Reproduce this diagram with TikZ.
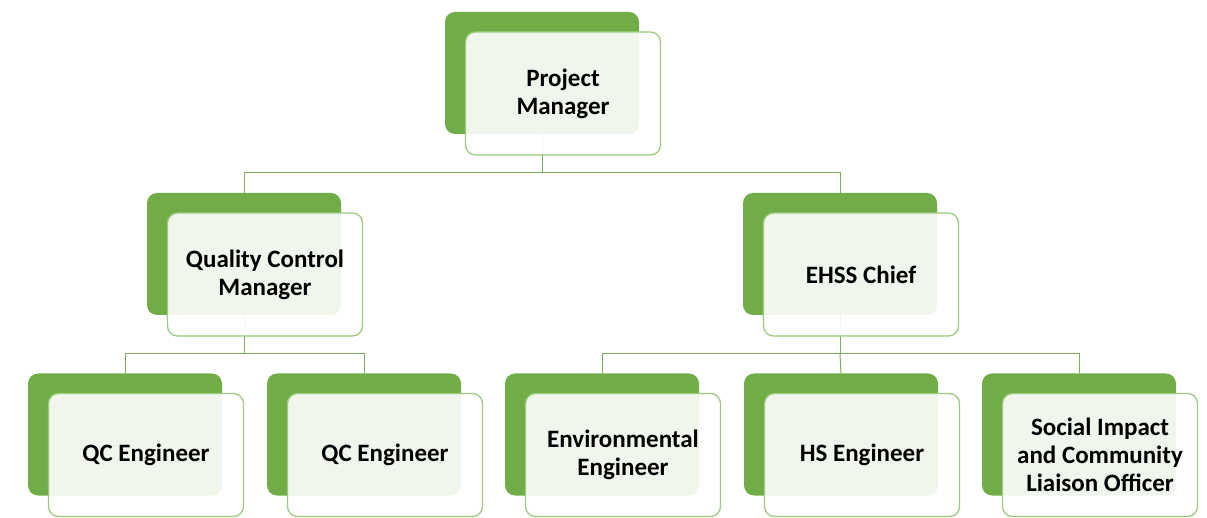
\documentclass[tikz,border=0pt]{standalone}
\usepackage{fontspec}
\setmainfont{Carlito}
\definecolor{gback}{HTML}{70AD47}
\definecolor{gline}{HTML}{9CCB7E}
\definecolor{gconn}{HTML}{78AE56}
\begin{document}
\begin{tikzpicture}[x=1pt,y=-1pt,
  backbox/.style={draw=none,fill=gback,rounded corners=10pt,minimum width=194pt,minimum height=122pt,inner sep=0pt},
  frontbox/.style={draw=gline,line width=1.3pt,fill=white,fill opacity=0.9,text opacity=1,rounded corners=10pt,minimum width=195pt,minimum height=123pt,inner sep=0pt,align=center,font=\fontsize{25}{28}\selectfont\bfseries},
  conn/.style={draw=gconn,line width=1pt}]
\useasboundingbox (0,0) rectangle (1207,518);
% back boxes
\node[backbox] (pmb) at (542,73) {};
\node[backbox] (qcmb) at (244,254) {};
\node[backbox] (ehb) at (840,254) {};
\node[backbox] (qc1b) at (125,434.5) {};
\node[backbox] (qc2b) at (364,434.5) {};
\node[backbox] (envb) at (602,434.5) {};
\node[backbox] (hsb) at (841,434.5) {};
\node[backbox] (sib) at (1079,434.5) {};
% connectors
\coordinate (bus1) at (0,173);
\coordinate (bus2) at (0,354);
\draw[conn] (pmb.south) -- (pmb.south |- bus1) -| (qcmb.north);
\draw[conn] (pmb.south |- bus1) -| (ehb.north);
\draw[conn] (qcmb.south) -- (qcmb.south |- bus2) -| (qc1b.north);
\draw[conn] (qcmb.south |- bus2) -| (qc2b.north);
\draw[conn] (ehb.south) -- (ehb.south |- bus2) -| (envb.north);
\draw[conn] (ehb.south |- bus2) -| (sib.north);
\draw[conn] (ehb.south |- bus2) -- (hsb.north);
% front boxes
\node[frontbox] (pm) at ([xshift=21pt,yshift=-20.5pt]pmb.center) {Project\\Manager};
\node[frontbox] (qcm) at ([xshift=21pt,yshift=-20.5pt]qcmb.center) {Quality Control\\Manager};
\node[frontbox] (eh) at ([xshift=21pt,yshift=-20.5pt]ehb.center) {EHSS Chief};
\node[frontbox] (qc1) at ([xshift=21pt,yshift=-20.5pt]qc1b.center) {QC Engineer};
\node[frontbox] (qc2) at ([xshift=21pt,yshift=-20.5pt]qc2b.center) {QC Engineer};
\node[frontbox] (env) at ([xshift=21pt,yshift=-20.5pt]envb.center) {Environmental\\Engineer};
\node[frontbox] (hs) at ([xshift=21pt,yshift=-20.5pt]hsb.center) {HS Engineer};
\node[frontbox] (si) at ([xshift=21pt,yshift=-20.5pt]sib.center) {Social Impact\\and Community\\Liaison Officer};
\end{tikzpicture}
\end{document}
